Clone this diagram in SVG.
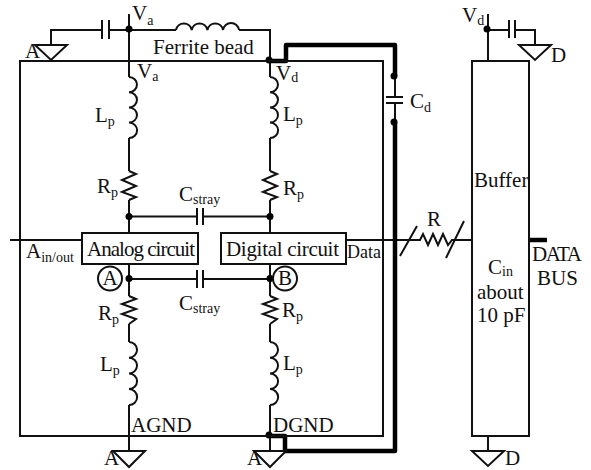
<svg xmlns="http://www.w3.org/2000/svg" width="591" height="470" viewBox="0 0 591 470">
<style>
text{font-family:"Liberation Serif","Times New Roman",serif;font-size:21px;fill:#111}
tspan.s{font-size:14px}
.w{fill:none;stroke:#111;stroke-width:2}
.t{fill:none;stroke:#000;stroke-width:4.5;stroke-linejoin:round}
.b{fill:#fff;stroke:#111;stroke-width:2}
.d{fill:#000}
</style>
<rect width="591" height="470" fill="#fff"/>
<g id="connectors">
<path class="w" d="M129 14V77M129 138V171M129 200V233M129 264V296M129 324V342M129 405V451"/>
<path class="w" d="M270 30V77M270 138V171M270 200V233M270 264V296M270 324V342M270 405V451"/>
<path class="w" d="M129 77a8 7.6 0 0 1 0 15.2a8 7.6 0 0 1 0 15.2a8 7.6 0 0 1 0 15.2a8 7.6 0 0 1 0 15.4"/>
<path class="w" d="M270 77a8 7.6 0 0 1 0 15.2a8 7.6 0 0 1 0 15.2a8 7.6 0 0 1 0 15.2a8 7.6 0 0 1 0 15.4"/>
<path class="w" d="M129 342a8 7.8 0 0 1 0 15.7a8 7.8 0 0 1 0 15.7a8 7.8 0 0 1 0 15.7a8 7.8 0 0 1 0 15.900"/>
<path class="w" d="M270 342a8 7.8 0 0 1 0 15.7a8 7.8 0 0 1 0 15.7a8 7.8 0 0 1 0 15.7a8 7.8 0 0 1 0 15.900"/>
<path class="w" d="M176 30a8 8 0 0 1 15.7 0a8 8 0 0 1 15.7 0a8 8 0 0 1 15.7 0a8 8 0 0 1 15.900 0"/>
<path class="w" d="M129 171l7 3-14 6 14 6-14 6 14 5-7 3M270 171l7 3-14 6 14 6-14 6 14 5-7 3"/>
<path class="w" d="M129 296l7 3-14 5 14 5-14 5 14 5-7 5M270 296l7 3-14 5 14 5-14 5 14 5-7 5"/>
<path class="w" d="M51 45V30H102M109 30H176M239 30H270V61M102 20V39M109 20V39"/>
<path class="w" d="M129 216.500H196M203 216.500H270M197 208V225M203 208V225"/>
<path class="w" d="M129 279H196M203 279H270M197 270V288M203 270V288"/>
<path class="w" d="M10 240H82M346 240H420l3-6 5 11 5-11 5 11 5-11 5 11 4-5H472M400 256L417 226M446 258L464 221"/>
<path class="w" d="M395 76V97M395 103V122M386 97H403M386 103H403"/>
<path class="w" d="M488 14V61M488 30H509M515 30H535V45M509 20V38M515 20V38M488 436V451"/>
<path class="t" d="M270 61H286V45H395V76"/>
<path class="t" d="M395 122V451H285V436H270"/>
<path class="t" d="M529 240H547"/>
<circle class="d" cx="129" cy="29" r="3.500"/>
<circle class="d" cx="269" cy="60" r="3.500"/>
<circle class="d" cx="129" cy="216.500" r="3.500"/>
<circle class="d" cx="270" cy="216.500" r="3.500"/>
<circle class="d" cx="129" cy="278.500" r="3.500"/>
<circle class="d" cx="270" cy="278.500" r="3.500"/>
<circle class="d" cx="269" cy="435" r="3.500"/>
<circle class="d" cx="394" cy="76" r="3.500"/>
<circle class="d" cx="394" cy="122" r="3.500"/>
<circle class="d" cx="487" cy="29" r="3.500"/>
</g>
<g id="board"><path class="w" d="M20 61H383V436H20Z"/></g>
<g id="top-ground"><path class="b" d="M35 45H67L51 60Z"/><text x="25" y="58">A</text></g>
<g id="analog-ground"><path class="b" d="M113 451H145L129 467Z"/><text x="104" y="465">A</text></g>
<g id="digital-ground"><path class="b" d="M254 451H286L270 467Z"/><text x="247" y="465">A</text></g>
<g id="buffer-top-ground"><path class="b" d="M519 45H551L535 60Z"/><text x="551" y="62">D</text></g>
<g id="buffer-bottom-ground"><path class="b" d="M472 451H504L488 466Z"/><text x="505" y="465">D</text></g>
<g id="analog-circuit"><rect class="b" x="82" y="233" width="116" height="31"/><text x="87" y="256" textLength="108">Analog circuit</text></g>
<g id="digital-circuit"><rect class="b" x="221" y="233" width="125" height="31"/><text x="226" y="256" textLength="113">Digital circuit</text></g>
<g id="node-a"><circle cx="110" cy="278.500" r="12" fill="#fff" stroke="#111" stroke-width="2"/><text x="110" y="285" text-anchor="middle">A</text></g>
<g id="node-b"><circle cx="285" cy="278.500" r="12" fill="#fff" stroke="#111" stroke-width="2"/><text x="285" y="285" text-anchor="middle">B</text></g>
<g id="buffer"><rect class="w" x="472" y="61" width="57" height="375"/><text x="474" y="187">Buffer</text><text x="488" y="274">C<tspan class="s" dy="2">in</tspan></text><text x="477" y="299">about</text><text x="477" y="322">10 pF</text></g>
<g id="labels">
<text x="132" y="20">V<tspan class="s" dy="5">a</tspan></text>
<text x="137" y="78">V<tspan class="s" dy="3">a</tspan></text>
<text x="276" y="80">V<tspan class="s" dy="2">d</tspan></text>
<text x="462" y="22">V<tspan class="s" dy="3">d</tspan></text>
<text x="153" y="54">Ferrite bead</text>
<text x="95" y="122">L<tspan class="s" dy="4">p</tspan></text>
<text x="283" y="121">L<tspan class="s" dy="4">p</tspan></text>
<text x="97" y="193">R<tspan class="s" dy="4">p</tspan></text>
<text x="283" y="195">R<tspan class="s" dy="4">p</tspan></text>
<text x="179" y="201">C<tspan class="s" dy="3">stray</tspan></text>
<text x="179" y="310">C<tspan class="s" dy="3">stray</tspan></text>
<text x="98" y="320">R<tspan class="s" dy="4">p</tspan></text>
<text x="282" y="317">R<tspan class="s" dy="4">p</tspan></text>
<text x="100" y="371">L<tspan class="s" dy="4">p</tspan></text>
<text x="283" y="370">L<tspan class="s" dy="4">p</tspan></text>
<text x="26" y="258">A<tspan class="s" dy="4">in/out</tspan></text>
<text x="131" y="432">AGND</text>
<text x="273" y="432">DGND</text>
<text x="347" y="258" style="font-size:18px">Data</text>
<text x="410" y="108">C<tspan class="s" dy="4">d</tspan></text>
<text x="427" y="226">R</text>
<text x="532" y="261" textLength="50">DATA</text>
<text x="537" y="285">BUS</text>
</g>
</svg>
